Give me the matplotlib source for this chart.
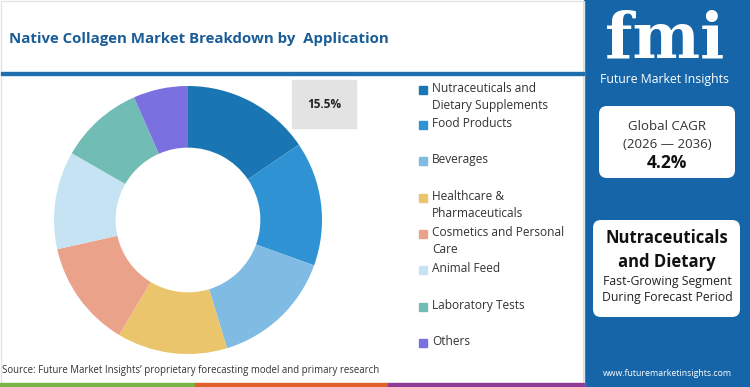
import matplotlib.pyplot as plt
from matplotlib.patches import Rectangle, FancyBboxPatch

# --- Data ---
segments = [
    "Nutraceuticals and\nDietary Supplements",
    "Food Products",
    "Beverages",
    "Healthcare &\nPharmaceuticals",
    "Cosmetics and Personal\nCare",
    "Animal Feed",
    "Laboratory Tests",
    "Others",
]
shares = [15.5, 15.0, 14.8, 13.3, 12.9, 11.8, 10.1, 6.6]
colors = ["#1a76b2", "#2e92d3", "#7fbbe2", "#ebc56b", "#eba28a",
          "#c6e3f4", "#71bcb4", "#7b70e0"]
highlight = "15.5%"
cagr_years = "(2026 \u2014 2036)"
cagr_value = "4.2%"

W, H = 750, 387
plt.rcParams["font.family"] = ["Open Sans", "DejaVu Sans"]
fig = plt.figure(figsize=(W / 100, H / 100), dpi=100)

# overlay axes in pixel coordinates
bg = fig.add_axes([0, 0, 1, 1])
bg.set_xlim(0, W)
bg.set_ylim(H, 0)
bg.axis("off")

panel = "#1565a8"
bg.add_patch(Rectangle((584, 0), W - 584, H, color=panel, zorder=0))
bg.add_patch(Rectangle((0.5, 0.5), 583, 386, fill=False, ec="#e4e4e4", lw=1))
bg.add_patch(Rectangle((1, 72), 583, 3, color="#1f6fae"))
for x0, x1, c in [(0, 195, "#79b547"), (195, 388, "#e0622a"), (388, 584, "#8d3b95")]:
    bg.add_patch(Rectangle((x0, 383), x1 - x0, 4, color=c))

bg.text(9, 39, "Native Collagen Market Breakdown by  Application", fontsize=10.8,
        fontweight="bold", color="#1b5d97", va="center", ha="left")
bg.text(2, 371, "Source: Future Market Insights\u2019 proprietary forecasting model and primary research",
        fontsize=6.9, color="#333333", va="center", ha="left")

# highlight box
bg.add_patch(Rectangle((292, 80), 64, 48, color="#e3e3e3"))
bg.text(324, 104, highlight, fontsize=8.5, fontweight="bold", color="#222222",
        ha="center", va="center")

# legend
leg_y = [90, 125, 161, 198, 234, 270, 307, 343]
for name, c, y in zip(segments, colors, leg_y):
    bg.add_patch(Rectangle((419, y - 4), 8, 8, color=c))
    bg.text(432, y - 8, name, fontsize=8.6, color="#333333", va="top", ha="left",
            linespacing=1.4)

# donut
cx, cy, r = 188, 220, 134
ax = fig.add_axes([(cx - r) / W, 1 - (cy + r) / H, 2 * r / W, 2 * r / H])
ax.pie(shares, colors=colors, startangle=90, counterclock=False,
       wedgeprops=dict(width=0.46, edgecolor="none"))
ax.set_xlim(-1, 1)
ax.set_ylim(-1, 1)
ax.set_aspect("equal")

# right panel
bg.text(665, 40, "fmi", fontsize=46, fontweight="bold", color="white",
        ha="center", va="center", family="DejaVu Serif")
bg.text(665, 80, "Future Market Insights", fontsize=8.8, color="white",
        ha="center", va="center")

bg.add_patch(FancyBboxPatch((599, 106), 136, 72, boxstyle="round,pad=0,rounding_size=8",
                            fc="white", ec="none"))
bg.text(667, 126, "Global CAGR", fontsize=9.5, color="#333333", ha="center", va="center")
bg.text(667, 144, cagr_years, fontsize=9.5, color="#333333", ha="center", va="center")
bg.text(667, 163, cagr_value, fontsize=12.5, fontweight="bold", color="#111111",
        ha="center", va="center")

bg.add_patch(FancyBboxPatch((593, 220), 147, 97, boxstyle="round,pad=0,rounding_size=8",
                            fc="white", ec="none"))
bg.text(667, 238, "Nutraceuticals", fontsize=12, fontweight="bold", color="#111111",
        ha="center", va="center")
bg.text(667, 262, "and Dietary", fontsize=12, fontweight="bold", color="#111111",
        ha="center", va="center")
bg.text(667, 281, "Fast-Growing Segment", fontsize=8.8, color="#222222",
        ha="center", va="center")
bg.text(667, 298, "During Forecast Period", fontsize=8.8, color="#222222",
        ha="center", va="center")
bg.text(667, 374, "www.futuremarketinsights.com", fontsize=6.3, color="white",
        ha="center", va="center")

fig.savefig("out.png", dpi=100)
